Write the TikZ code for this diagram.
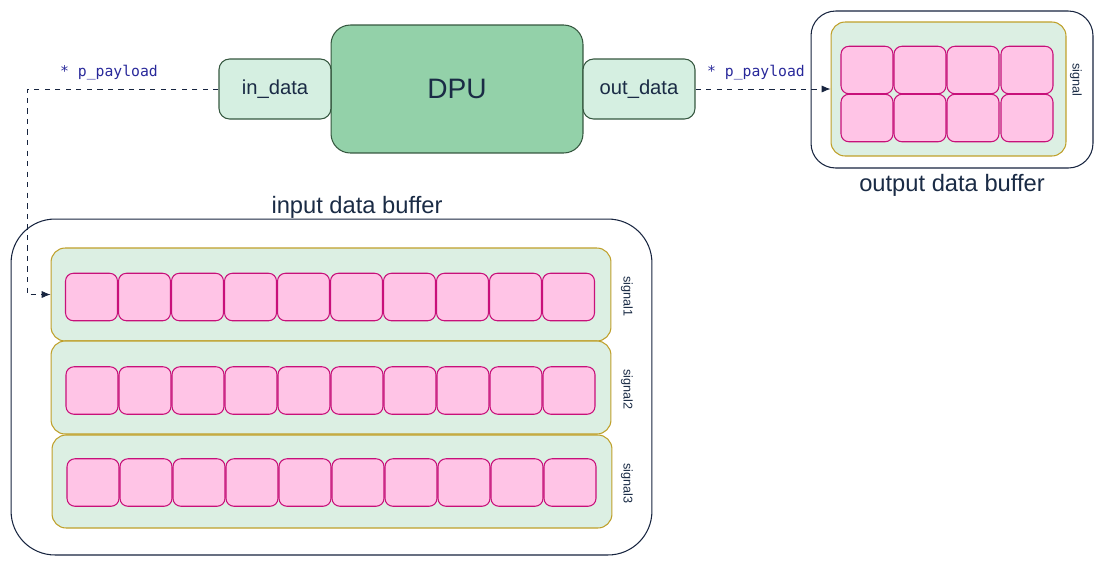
\documentclass[tikz,border=0pt]{standalone}
\usepackage{fontspec}
\setmainfont{Liberation Sans}
\setmonofont{DejaVu Sans Mono}
\usetikzlibrary{arrows.meta}
\definecolor{dpufill}{HTML}{93D1A9}
\definecolor{portfill}{HTML}{D5EFE1}
\definecolor{rowfill}{HTML}{DCEFE3}
\definecolor{greenline}{HTML}{35573F}
\definecolor{navy}{HTML}{17243F}
\definecolor{gold}{HTML}{BFA02A}
\definecolor{cellfill}{HTML}{FFC4E6}
\definecolor{cellline}{HTML}{C8107A}
\definecolor{inktext}{HTML}{1A2B45}
\definecolor{ptrtext}{HTML}{28289A}
\begin{document}
\begin{tikzpicture}[x=0.02cm, y=-0.02cm, line width=0.6pt,
    every node/.style={text=inktext, inner sep=0pt},
    dpubox/.style={draw=greenline, fill=dpufill, rounded corners=11pt,
                   minimum width=5.04cm, minimum height=2.56cm,
                   font=\fontsize{16}{18}\selectfont},
    portbox/.style={draw=greenline, fill=portfill, rounded corners=6pt,
                    minimum width=2.24cm, minimum height=1.2cm,
                    font=\fontsize{11.5}{13}\selectfont},
    bufbox/.style={draw=navy, rounded corners=#1},
    rowbox/.style={draw=gold, fill=rowfill, rounded corners=8pt},
    cell/.style={draw=cellline, fill=cellfill, rounded corners=4.5pt,
                 minimum width=1.04cm, minimum height=0.95cm},
    siglabel/.style={rotate=-90, font=\fontsize{7.2}{8}\selectfont},
    title/.style={font=\fontsize{13.5}{15}\selectfont},
    ptr/.style={text=ptrtext, font=\ttfamily\fontsize{8.4}{10}\selectfont},
    link/.style={draw=navy, line width=0.4pt, dashed, -{Latex[length=5pt,width=4pt]}}]
  \useasboundingbox (0,0) rectangle (1105,566);

  % processing unit and its ports
  \node (dpu) [dpubox] at (457,89) {DPU};
  \node (in) [portbox] at (275,89) {in\_data};
  \node (out) [portbox] at (639,89) {out\_data};

  % output data buffer
  \node (obuf) [bufbox=14pt, minimum width=5.64cm, minimum height=3.14cm] at (952,89.5) {};
  \node (orow) [rowbox, minimum width=4.7cm, minimum height=2.68cm] at (948.5,89) {};
  \foreach \c/\x in {1/867,2/920,3/973,4/1027}
    \foreach \r/\y in {1/70,2/118}
      \node (oc\r\c) [cell] at (\x,\y) {};
  \node (osig) [siglabel] at (1076,80) {signal};
  \node (otitle) [title] at (952,185) {output data buffer};

  % input data buffer
  \node (ibuf) [bufbox=25pt, minimum width=12.82cm, minimum height=6.72cm] at (331.5,387) {};
  \node (ititle) [title] at (357,207) {input data buffer};
  \foreach \r/\y/\x in {1/294.5/331,2/387.5/331,3/481.5/332} {
    \node (row\r) [rowbox, minimum width=11.2cm, minimum height=1.86cm] at (\x,\y) {};
    \node (sig\r) [siglabel] at (627,\y+2) {signal\r};
  }
  \foreach \r/\y/\x in {1/297/91.5,2/390.5/92,3/482.5/93}
    \foreach \c in {1,...,10}
      \node (ic\r-\c) [cell] at ({\x+53*(\c-1)},\y) {};

  % pointers
  \coordinate (bend) at (27,89);
  \draw[link] (in.west) -- (bend) |- (row1.west);
  \draw[link] (out.east) -- (orow.west);
  \node (pin) [ptr] at (109,73) {* p\_payload};
  \node (pout) [ptr] at (756,73) {* p\_payload};
\end{tikzpicture}
\end{document}
